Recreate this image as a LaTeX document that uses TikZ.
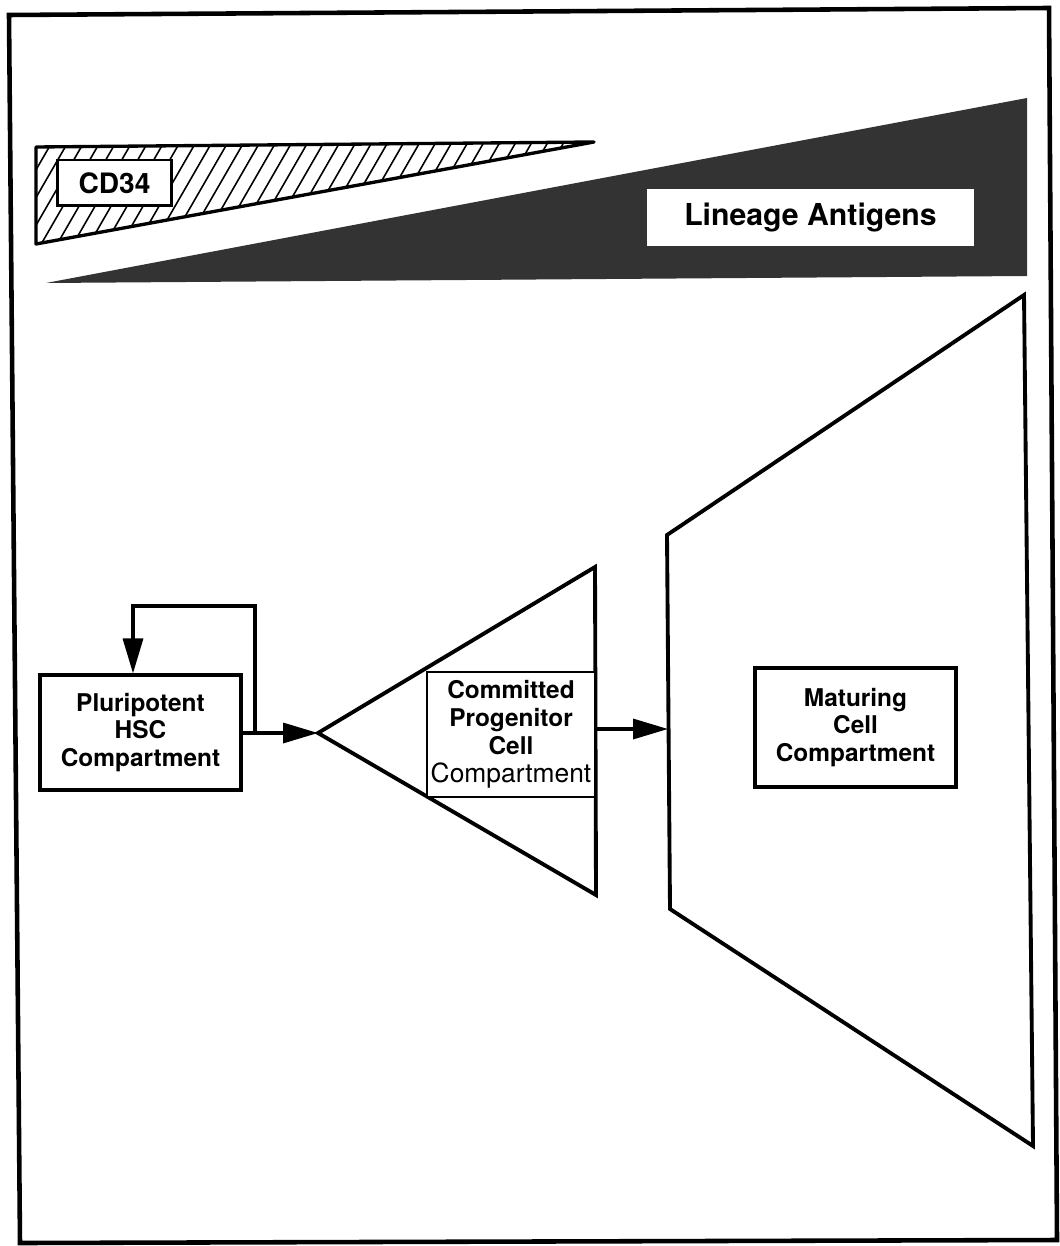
\documentclass[tikz,border=0pt]{standalone}
\usepackage{fontspec}
\setmainfont{TeX Gyre Heros}
\usetikzlibrary{arrows.meta}
\newlength\pu
\setlength\pu{0.02cm}
\begin{document}
\begin{tikzpicture}[x=\pu, y=-\pu,
  outline/.style={line width=2.2pt, line join=miter},
  labelbox/.style={draw, line width=1.5pt, fill=white, inner sep=0pt, align=center,
    font=\bfseries\fontsize{13.9}{15.9}\selectfont},
  flow/.style={line width=1.9pt, -{Triangle[length=0.7cm, width=0.4cm]}}
]
\useasboundingbox (0,0) rectangle (1059,1246);
\fill[white] (0,0) rectangle (1059,1246);

% outer frame
\draw[line width=2.6pt, line join=miter] (9,15) -- (1049,8) -- (1057,1240) -- (20,1243) -- cycle;

% CD34 expression wedge (hatched)
\coordinate (cdA) at (36,147);
\coordinate (cdB) at (594,142);
\coordinate (cdC) at (36,244);
\begin{scope}
  \clip (cdA) -- (cdB) -- (cdC) -- cycle;
  \foreach \x in {-96,-80,...,610}
    \draw[line width=0.9pt] (\x,260) -- (\x+75,130);
\end{scope}
\draw[line width=1.9pt, line join=round] (cdA) -- (cdB) -- (cdC) -- cycle;
\node[labelbox, line width=1.7pt, minimum width=2.3cm, minimum height=0.92cm,
  font=\bfseries\fontsize{16}{18}\selectfont] (cd34) at (114.5,183) {CD34};

% lineage antigen wedge (solid)
\fill[black!80] (46,283) -- (1027,98) -- (1027,276) -- cycle;
\node[labelbox, draw=black!80, line width=0.6pt, minimum width=6.58cm, minimum height=1.18cm,
  font=\bfseries\fontsize{17.2}{19}\selectfont] (lineage) at (810.5,217.5) {Lineage Antigens};

% pluripotent stem cell compartment
\node[labelbox, line width=1.8pt, minimum width=4.02cm, minimum height=2.3cm] (hsc) at (140.5,732.5)
  {Pluripotent\\HSC\\Compartment};

% committed progenitor compartment
\coordinate (cpApex) at (318,733);
\coordinate (cpTop) at (595,567);
\coordinate (cpBot) at (596,895);
\draw[outline] (cpApex) -- (cpTop) -- (cpBot) -- cycle;
\node[labelbox, minimum width=3.36cm, minimum height=2.5cm] (cp) at (511,734.5)
  {Committed\\Progenitor\\Cell\\{\mdseries\fontsize{15}{15.9}\selectfont Compartment}};

% maturing cell compartment
\draw[outline] (667,535) -- (1024,295) -- (1033,1146) -- (670,909) -- cycle;
\node[labelbox, line width=1.8pt, minimum width=4.02cm, minimum height=2.38cm] (mat) at (855.5,727.5)
  {Maturing\\Cell\\Compartment};
\coordinate (matIn) at (668,729);

% connectors
\coordinate (loopStart) at (255,733);
\coordinate (loopTop) at (133,606);
\draw[flow, line join=miter] (loopStart) |- (loopTop) -- (loopTop |- hsc.north);
\draw[flow] (hsc.east |- cpApex) -- (cpApex);
\draw[flow] (cp.east |- matIn) -- (matIn);
\end{tikzpicture}
\end{document}
